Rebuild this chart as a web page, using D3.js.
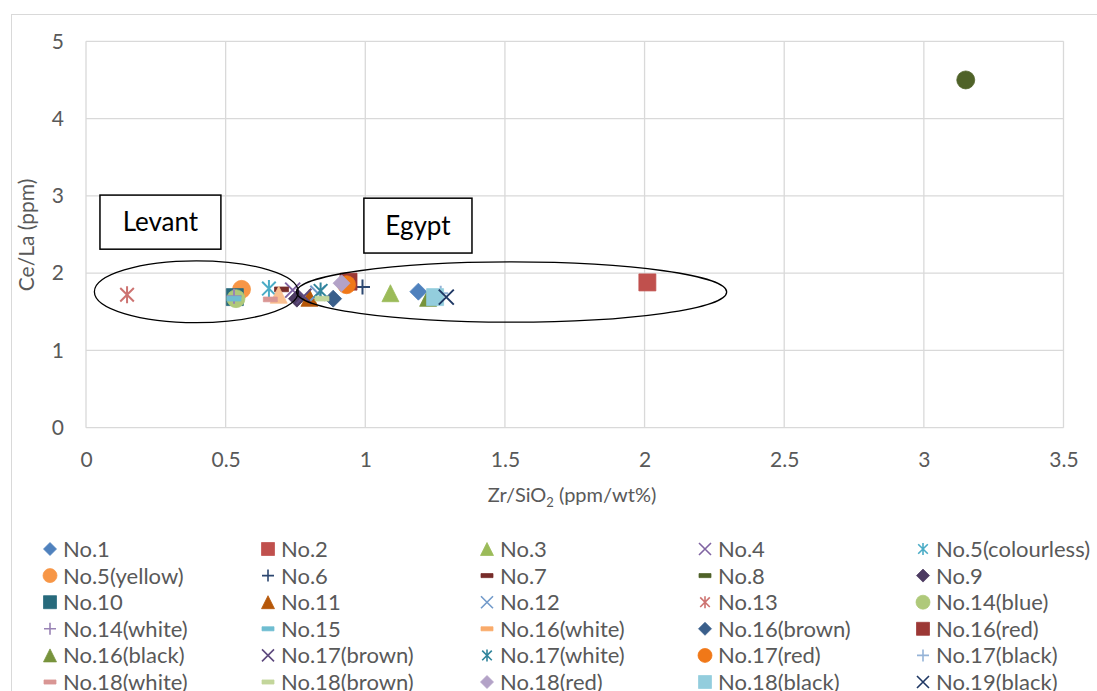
<!DOCTYPE html>
<html>
<head>
<meta charset="utf-8">
<script src="https://cdn.jsdelivr.net/npm/d3@7"></script>
<style>
  html, body { margin: 0; padding: 0; background: #fff; }
  svg { display: block; }
  text { font-family: "Lato", "Open Sans", sans-serif; fill: #595959; }
</style>
</head>
<body>
<script>
// Sample names and their Zr/SiO2 vs Ce/La values
const sampleNames = ["No.1","No.2","No.3","No.4","No.5(colourless)","No.5(yellow)","No.6","No.7","No.8","No.9",
  "No.10","No.11","No.12","No.13","No.14(blue)","No.14(white)","No.15","No.16(white)","No.16(brown)","No.16(red)",
  "No.16(black)","No.17(brown)","No.17(white)","No.17(red)","No.17(black)","No.18(white)","No.18(brown)","No.18(red)","No.18(black)","No.19(black)"];
const zrSiO2 = [1.19, 2.01, 1.09, 0.74, 0.655, 0.557, 0.99, 0.70, 3.15, 0.755,
  0.533, 0.80, 0.83, 0.147, 0.537, 0.53, 0.53, 0.69, 0.885, 0.94,
  1.225, 0.78, 0.84, 0.933, 1.27, 0.66, 0.845, 0.915, 1.25, 1.29];
const ceLa = [1.76, 1.88, 1.74, 1.78, 1.80, 1.79, 1.82, 1.79, 4.50, 1.67,
  1.69, 1.68, 1.74, 1.72, 1.67, 1.70, 1.67, 1.72, 1.67, 1.89,
  1.68, 1.70, 1.77, 1.85, 1.74, 1.66, 1.67, 1.87, 1.69, 1.69];

// Axis ticks
const xTicks = [0, 0.5, 1, 1.5, 2, 2.5, 3, 3.5];
const yTicks = [0, 1, 2, 3, 4, 5];

// Group annotations (in data units)
const groupNames = ["Levant", "Egypt"];
const groupCx = [0.395, 1.524];
const groupCy = [1.76, 1.755];
const groupRx = [0.365, 0.77];
const groupRy = [0.40, 0.39];
const labelX0 = [0.05, 0.995];
const labelX1 = [0.483, 1.382];
const labelYTop = [3.01, 2.97];
const labelYBottom = [2.31, 2.26];

// Marker styling per series
const seriesColors = ["#4F81BD","#C0504D","#9BBB59","#8064A2","#4BACC6","#F79646","#2C4770","#772C2A","#4F6228","#4D3B62",
  "#276A7C","#B65708","#729ACA","#CD7371","#AFC97A","#9983B5","#6FBDD1","#F9AB6B","#3A5F8B","#9C3835",
  "#77933C","#5E4A7E","#31859C","#F07818","#95B3D7","#D99694","#C3D69B","#B3A2C7","#93CDDD","#1F3864"];
const legendSymbols = ["diamond","square","triangle","x","star","circle","plus","dash","dash","diamond",
  "square","triangle","x","star","circle","plus","dash","dash","diamond","square",
  "triangle","x","star","circle","plus","dash","dash","diamond","square","x"];
const plotSymbols = legendSymbols.slice();
plotSymbols[8] = "circle";     // No.8 point formatted as a circle
plotSymbols[17] = "triangle";  // No.16(white) point formatted as a triangle
const plotColors = seriesColors.slice();
plotColors[17] = "#FAC090";

const W = 1097, H = 691;
const svg = d3.select("body").append("svg").attr("width", W).attr("height", H);
svg.append("rect").attr("width", W).attr("height", H).attr("fill", "#fff");
// chart frame
svg.append("rect").attr("x", 11.5).attr("y", 14.5).attr("width", 1200).attr("height", 800)
  .attr("fill", "none").attr("stroke", "#D9D9D9").attr("stroke-width", 1);

const x = d3.scaleLinear().domain([0, 3.5]).range([86, 1063.5]);
const y = d3.scaleLinear().domain([0, 5]).range([427.7, 41.3]);

// gridlines
const grid = svg.append("g").attr("stroke", "#D9D9D9").attr("stroke-width", 1.3);
grid.selectAll("line.v").data(xTicks).join("line")
  .attr("x1", d => x(d)).attr("x2", d => x(d)).attr("y1", y(0)).attr("y2", y(5));
grid.selectAll("line.h").data(yTicks).join("line")
  .attr("x1", x(0)).attr("x2", x(3.5)).attr("y1", d => y(d)).attr("y2", d => y(d));

// axes (labels only, Excel style)
const xAxis = d3.axisBottom(x).tickValues(xTicks).tickSize(0).tickPadding(0).tickFormat(d => String(d));
const gx = svg.append("g").attr("transform", `translate(0,${y(0) + 39})`).call(xAxis);
gx.select(".domain").remove();
gx.selectAll("text").attr("font-size", 21).attr("fill", "#595959").attr("dy", "0").style("font-family", "Lato, sans-serif");

const yAxis = d3.axisLeft(y).tickValues(yTicks).tickSize(0).tickPadding(0).tickFormat(d => String(d));
const gy = svg.append("g").attr("transform", `translate(${x(0) - 22},0)`).call(yAxis);
gy.select(".domain").remove();
gy.selectAll("text").attr("font-size", 21).attr("fill", "#595959").style("font-family", "Lato, sans-serif");

// axis titles
const xt = svg.append("text").attr("x", 572).attr("y", 502).attr("text-anchor", "middle").attr("font-size", 20);
xt.append("tspan").text("Zr/SiO");
xt.append("tspan").text("2").attr("font-size", 13).attr("dy", 5);
xt.append("tspan").text(" (ppm/wt%)").attr("dy", -5);

svg.append("text").attr("transform", "translate(34,235) rotate(-90)")
  .attr("text-anchor", "middle").attr("font-size", 21).text("Ce/La (ppm)");

// marker shapes, w = overall width in px
function markerPath(type, w) {
  const r = w / 2, p = d3.path();
  switch (type) {
    case "diamond": p.moveTo(0,-r); p.lineTo(r,0); p.lineTo(0,r); p.lineTo(-r,0); p.closePath(); break;
    case "square": p.rect(-r,-r,w,w); break;
    case "triangle": p.moveTo(0,-r); p.lineTo(r,r); p.lineTo(-r,r); p.closePath(); break;
    case "circle": p.arc(0,0,r,0,2*Math.PI); break;
    case "x": p.moveTo(-r,-r); p.lineTo(r,r); p.moveTo(-r,r); p.lineTo(r,-r); break;
    case "plus": p.moveTo(-r,0); p.lineTo(r,0); p.moveTo(0,-r); p.lineTo(0,r); break;
    case "star": p.moveTo(-r*0.8,-r*0.8); p.lineTo(r*0.8,r*0.8); p.moveTo(-r*0.8,r*0.8); p.lineTo(r*0.8,-r*0.8);
                 p.moveTo(0,-r); p.lineTo(0,r); break;
    case "dash": p.rect(-r,-w*0.17,w,w*0.34); break;
  }
  return p.toString();
}
const isLine = t => t === "x" || t === "plus" || t === "star";
function styleMarker(sel, type, color) {
  if (isLine(type)) sel.attr("fill", "none").attr("stroke", color).attr("stroke-width", 2);
  else sel.attr("fill", color).attr("stroke", color).attr("stroke-width", 0.75);
}
const plotSize = { diamond: 17, square: 17, triangle: 17, circle: 18, x: 15, plus: 15, star: 17, dash: 14 };

// data points
const pts = svg.append("g");
sampleNames.forEach((name, i) => {
  const t = plotSymbols[i];
  const m = pts.append("path").attr("d", markerPath(t, plotSize[t]))
    .attr("transform", `translate(${x(zrSiO2[i])},${y(ceLa[i])})`);
  styleMarker(m, t, plotColors[i]);
});

// group ellipses and label boxes
const ann = svg.append("g");
groupNames.forEach((g, i) => {
  ann.append("ellipse")
    .attr("cx", x(groupCx[i])).attr("cy", y(groupCy[i]))
    .attr("rx", x(groupRx[i]) - x(0)).attr("ry", y(0) - y(groupRy[i]))
    .attr("fill", "none").attr("stroke", "#000").attr("stroke-width", 1.3);
  ann.append("rect")
    .attr("x", x(labelX0[i])).attr("y", y(labelYTop[i]))
    .attr("width", x(labelX1[i]) - x(labelX0[i])).attr("height", y(labelYBottom[i]) - y(labelYTop[i]))
    .attr("fill", "#fff").attr("stroke", "#000").attr("stroke-width", 1.5);
  ann.append("text")
    .attr("x", (x(labelX0[i]) + x(labelX1[i])) / 2)
    .attr("y", (y(labelYTop[i]) + y(labelYBottom[i])) / 2)
    .attr("text-anchor", "middle").attr("dy", "0.36em")
    .attr("font-size", 26).style("fill", "#000").text(g);
});

// legend: 5 columns, 6 rows
const legCol = [50, 268, 487, 705, 923];
const legRow0 = 549, legRowStep = 26.6;
const legSize = { diamond: 13, square: 13, triangle: 13, circle: 14, x: 12, plus: 12, star: 12, dash: 12 };
const leg = svg.append("g");
sampleNames.forEach((name, i) => {
  const cx = legCol[i % 5], cy = legRow0 + Math.floor(i / 5) * legRowStep;
  const t = legendSymbols[i];
  const m = leg.append("path").attr("d", markerPath(t, legSize[t])).attr("transform", `translate(${cx},${cy})`);
  styleMarker(m, t, seriesColors[i]);
  if (isLine(t)) m.attr("stroke-width", 1.6);
  leg.append("text").attr("x", cx + 13).attr("y", cy).attr("dy", "0.36em")
    .attr("font-size", 22).text(name);
});
</script>
</body>
</html>
